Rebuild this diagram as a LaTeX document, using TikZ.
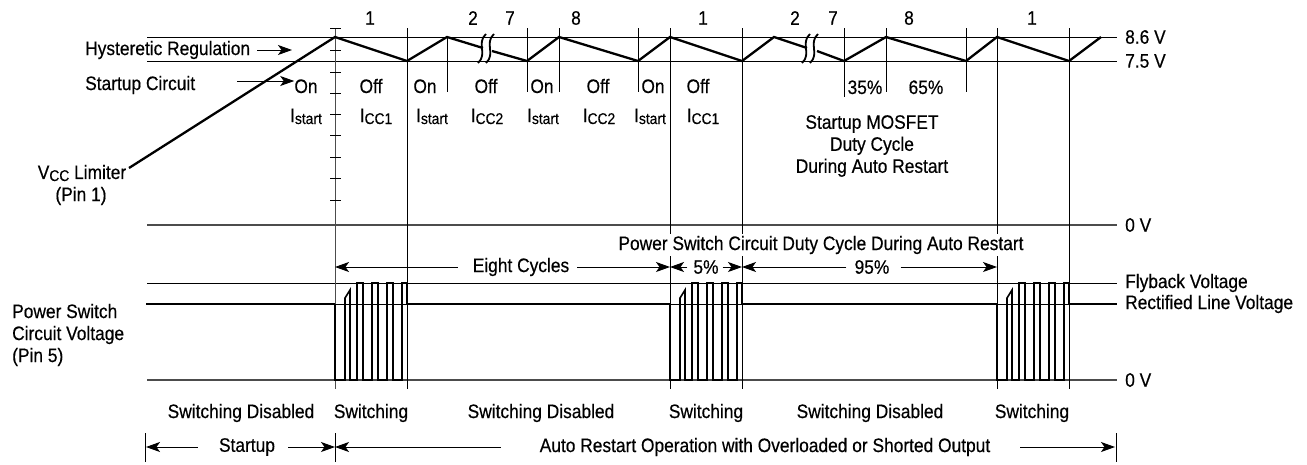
\documentclass[tikz,border=0pt]{standalone}
\usepackage{fontspec}
\setmainfont{Liberation Sans}[FakeStretch=0.89,FakeBold=0.4]
\usetikzlibrary{arrows.meta}
\newcommand\lsub[1]{\raisebox{-2pt}{\fontsize{15.5}{16}\selectfont #1}}
\begin{document}
\begin{tikzpicture}[x=1pt,y=-1pt,
  every node/.style={inner sep=0pt, font=\fontsize{19.5}{22}\selectfont},
  gline/.style={line width=0.8pt, black},
  gray line/.style={line width=1.3pt, black!70},
  trace/.style={line width=2.3pt, line join=miter},
  flat/.style={line width=2.8pt},
  burst/.style={line width=1.6pt, line join=miter},
  tip/.style={-{Stealth[length=14pt,width=10pt,inset=3.5pt]}, line width=1pt},
  bar/.style={line width=1pt}]
\useasboundingbox (0,0) rectangle (1307,464);

% horizontal reference lines
\draw[gline] (147,37) -- (1117,37);
\draw[gline] (147,61) -- (1117,61);
\draw[gray line] (147,225) -- (1117,225);
\draw[gline] (147,283) -- (1117,283);
\draw[gline] (147,304) -- (1117,304);
\draw[gray line] (147,380) -- (1117,380);

% axis with ticks
\draw[gline, black!70] (335,28) -- (335,389);
\foreach \y in {28,50,72,93,114,135,157,178,200}
  \draw[gline] (330,\y) -- (341,\y);

% long verticals
\foreach \x in {407,670,742,997,1069}
  \draw[gline] (\x,28) -- (\x,389);
% short verticals
\draw[gline] (447,37) -- (447,92);
\foreach \x in {527,559,638,886,966}
  \draw[gline] (\x,28) -- (\x,92);
\draw[gline] (844,28) -- (844,97);

% sawtooth
\draw[trace] (129,168) -- (335,37) -- (407,61) -- (447,37) -- (483,48);
\draw[trace] (492,51) -- (527,61) -- (559,37) -- (638,61) -- (670,37) -- (742,61) -- (774,37) -- (807,48);
\draw[trace] (817,51) -- (844,61) -- (886,37) -- (966,61) -- (997,37) -- (1069,61) -- (1101,37);
% break marks
\foreach \cx in {482,490,806,814}
  \draw[line width=1.8pt] (\cx+4,34) .. controls (\cx-6,43) and (\cx+6,54) .. (\cx-4,63);

% switch voltage trace
\draw[flat] (146,304) -- (335,304);
\draw[flat] (407,304) -- (670,304);
\draw[flat] (742,304) -- (997,304);
\draw[flat] (1069,304) -- (1117,304);
\foreach \s in {335,670,997}
  \draw[burst] (\s,304) -- ++(0,76) -- ++(10,0) -- ++(0,-82) -- ++(5,-8) -- ++(0,90)
    -- ++(7,0) -- ++(0,-97) -- ++(6,0) -- ++(0,97) -- ++(9,0) -- ++(0,-97) -- ++(6,0) -- ++(0,97)
    -- ++(9,0) -- ++(0,-97) -- ++(6,0) -- ++(0,97) -- ++(9,0) -- ++(0,-97) -- ++(5,0) -- ++(0,21);

% cycle numbers
\node (n1) at (370,18) {1};
\node (n2) at (473,18) {2};
\node (n3) at (510,18) {7};
\node (n4) at (576,18) {8};
\node (n5) at (703,18) {1};
\node (n6) at (795,18) {2};
\node (n7) at (833,18) {7};
\node (n8) at (909,18) {8};
\node (n9) at (1032,18) {1};

% right side labels
\node[anchor=west] (v86) at (1125,37) {8.6 V};
\node[anchor=west] (v75) at (1125,61) {7.5 V};
\node[anchor=west] (v0a) at (1125,225) {0 V};
\node[anchor=west] (fly) at (1125,283) {Flyback Voltage};
\node[anchor=west] (rect) at (1125,304) {Rectified Line Voltage};
\node[anchor=west] (v0b) at (1125,380) {0 V};

% left labels
\node[anchor=west] (hyst) at (85,50) {Hysteretic Regulation};
\coordinate (hyt) at (292,50);
\draw[tip] ([xshift=7pt]hyst.east) -- (hyt);
\node[anchor=west] (sc) at (85,85) {Startup Circuit};
\node[anchor=base] (on1) at (306,93) {On};
\coordinate (sct) at (237,81);
\draw[tip] (sct) -- (on1.west |- sct);
\node (vcc) at (82,173) {V\lsub{CC} Limiter};
\node (pin1) at (81,196) {(Pin 1)};
\node[anchor=west, align=left] (psv) at (12,335) {Power Switch\\Circuit Voltage\\(Pin 5)};

% on/off labels
\node[anchor=base] (i1) at (306,122) {I\lsub{start}};
\node[anchor=base] (off1) at (371,93) {Off};
\node[anchor=base] (c1) at (376,122) {I\lsub{CC1}};
\node[anchor=base] (on2) at (425,93) {On};
\node[anchor=base] (i2) at (432,122) {I\lsub{start}};
\node[anchor=base] (off2) at (486,93) {Off};
\node[anchor=base] (c2) at (487,122) {I\lsub{CC2}};
\node[anchor=base] (on3) at (542,93) {On};
\node[anchor=base] (i3) at (543,122) {I\lsub{start}};
\node[anchor=base] (off3) at (598,93) {Off};
\node[anchor=base] (c3) at (599,122) {I\lsub{CC2}};
\node[anchor=base] (on4) at (653,93) {On};
\node[anchor=base] (i4) at (650,122) {I\lsub{start}};
\node[anchor=base] (off4) at (698,93) {Off};
\node[anchor=base] (c4) at (703,122) {I\lsub{CC1}};
\node[anchor=base] (p35) at (865,94) {35\%};
\node[anchor=base] (p65) at (926,94) {65\%};
\node[align=center] (mos) at (872,146) {Startup MOSFET\\Duty Cycle\\During Auto Restart};

% duty cycle dimension
\node[fill=white, inner xsep=1pt, inner ysep=2pt] (pscd) at (821,245) {Power Switch Circuit Duty Cycle During Auto Restart};
\node (eight) at (521,267) {Eight Cycles};
\node (five) at (706,267) {5\%};
\node (nfive) at (872,267) {95\%};
\coordinate (d0) at (335,267);
\coordinate (d1) at (670,267);
\coordinate (d2) at (742,267);
\coordinate (d3) at (997,267);
\draw[tip] ([xshift=-15pt]eight.west) -- (d0);
\draw[tip] ([xshift=8pt]eight.east) -- (d1);
\draw[tip] ([xshift=-6pt]five.west) -- (d1);
\draw[tip] ([xshift=4pt]five.east) -- (d2);
\draw[tip] ([xshift=-8pt]nfive.west) -- (d2);
\draw[tip] ([xshift=11pt]nfive.east) -- (d3);

% bottom state labels
\node (sd1) at (241,413) {Switching Disabled};
\node (sw1) at (371,413) {Switching};
\node (sd2) at (541,413) {Switching Disabled};
\node (sw2) at (706,413) {Switching};
\node (sd3) at (870,413) {Switching Disabled};
\node (sw3) at (1032,413) {Switching};

% bottom phase arrows
\draw[bar] (145,433) -- (145,462);
\draw[bar] (335,433) -- (335,462);
\draw[bar] (1116,433) -- (1116,462);
\node (stp) at (247,447) {Startup};
\node (aro) at (765,447) {Auto Restart Operation with Overloaded or Shorted Output};
\coordinate (b0) at (146,447);
\coordinate (b1) at (335,447);
\coordinate (b2) at (1115,447);
\draw[tip] ([xshift=-21pt]stp.west) -- (b0);
\draw[tip] ([xshift=13pt]stp.east) -- (b1);
\draw[tip] ([xshift=-39pt]aro.west) -- (b1);
\draw[tip] ([xshift=30pt]aro.east) -- (b2);
\end{tikzpicture}
\end{document}
